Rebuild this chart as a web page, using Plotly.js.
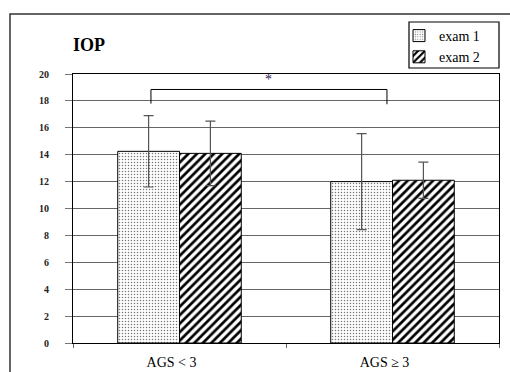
<!DOCTYPE html>
<html>
<head>
<meta charset="utf-8">
<script src="https://cdn.plot.ly/plotly-3.0.1.min.js"></script>
<style>html,body{margin:0;padding:0;background:#fff;}#chart{width:510px;height:372px;}</style>
</head>
<body>
<div id="chart"></div>
<script>
const categories = ["AGS < 3", "AGS \u2265 3"];
const exam1Mean = [14.25, 12.0];
const exam1SD = [2.65, 3.57];
const exam2Mean = [14.1, 12.1];
const exam2SD = [2.4, 1.35];
const seriesNames = ["exam 1", "exam 2"];
const yTicks = [0, 2, 4, 6, 8, 10, 12, 14, 16, 18, 20];

const serif = "'Liberation Serif', 'DejaVu Serif', serif";

const traces = [
  {
    type: "bar", name: seriesNames[0], x: categories, y: exam1Mean,
    marker: {color: "#ffffff", line: {color: "#000", width: 1},
      pattern: {shape: ".", fgcolor: "#777", bgcolor: "#ffffff", size: 3, solidity: 0.2}},
    error_y: {type: "data", array: exam1SD, visible: true, color: "#555", thickness: 1.2, width: 5}
  },
  {
    type: "bar", name: seriesNames[1], x: categories, y: exam2Mean,
    marker: {color: "#ffffff", line: {color: "#000", width: 1},
      pattern: {shape: "/", fgcolor: "#000", bgcolor: "#ffffff", size: 6, solidity: 0.45}},
    error_y: {type: "data", array: exam2SD, visible: true, color: "#555", thickness: 1.2, width: 5}
  }
];

const layout = {
  width: 510, height: 372,
  margin: {l: 73, r: 11, t: 74, b: 29},
  paper_bgcolor: "#fff", plot_bgcolor: "#fff",
  font: {family: serif, color: "#000"},
  barmode: "group", bargap: 0.42, bargroupgap: 0,
  showlegend: true,
  title: {text: "<b>IOP</b>", font: {family: serif, size: 18, color: "#000"},
    xref: "paper", x: 0, xanchor: "left", yref: "container", y: 1 - 45/372, yanchor: "middle"},
  legend: {x: (399 - 73) / 426, y: (343 - 20) / 269, xanchor: "left", yanchor: "top", xref: "paper", yref: "paper",
    borderwidth: 0, bgcolor: "rgba(0,0,0,0)", itemwidth: 30,
    font: {family: serif, size: 14, color: "#000"}, traceorder: "normal"},
  xaxis: {type: "category", showline: true, mirror: true, linecolor: "#000", linewidth: 1,
    ticks: "outside", tickson: "boundaries", ticklen: 4, tickcolor: "#666",
    ticklabelshift: -8, ticklabelstandoff: 6,
    showgrid: false, tickfont: {family: serif, size: 14, color: "#000"}, fixedrange: true},
  yaxis: {range: [0, 20], tickvals: yTicks, ticktext: yTicks.map(String),
    showline: true, mirror: true, linecolor: "#000", linewidth: 1,
    ticks: "outside", ticklen: 7, tickcolor: "#777", ticklabelstandoff: 14,
    showgrid: true, gridcolor: "#666", gridwidth: 1, zeroline: false,
    tickfont: {family: serif, size: 10, color: "#222", weight: "bold"}, fixedrange: true},
  shapes: [
    {type: "rect", xref: "paper", yref: "paper", x0: -0.1479, x1: 1.06, y0: -0.2, y1: 1.223,
      line: {color: "#333", width: 1.5}, fillcolor: "rgba(0,0,0,0)", layer: "below"},
    {type: "rect", xref: "paper", yref: "paper", x0: (409 - 73) / 426, x1: (499 - 73) / 426,
      y0: (343 - 68) / 269, y1: (343 - 22) / 269,
      line: {color: "#000", width: 1.2}, fillcolor: "rgba(0,0,0,0)", layer: "below"},
    {type: "path", xref: "x", yref: "y", path: "M -0.134 17.8 L -0.134 18.85 L 0.974 18.85 L 0.974 17.75",
      line: {color: "#000", width: 1}}
  ],
  annotations: [
    {xref: "x", yref: "y", x: 0.42, y: 18.85, text: "*", showarrow: false, yanchor: "bottom",
      font: {family: serif, size: 14, color: "#302050"}}
  ]
};

Plotly.newPlot("chart", traces, layout, {displayModeBar: false, staticPlot: true});
</script>
</body>
</html>
